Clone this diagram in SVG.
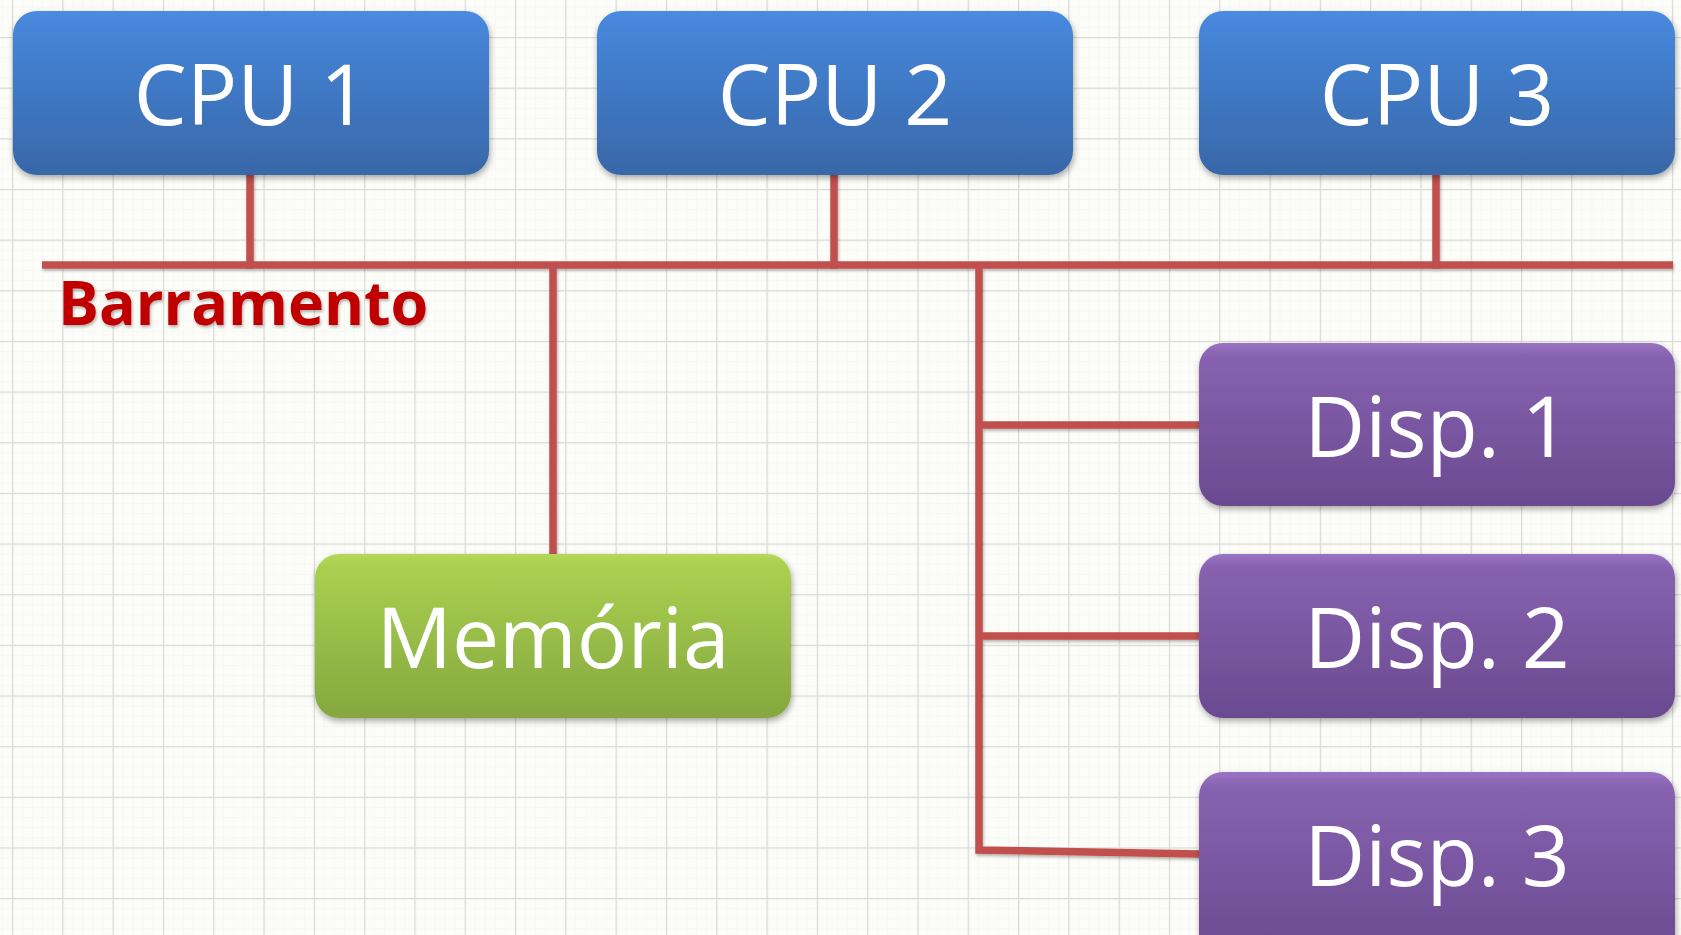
<svg xmlns="http://www.w3.org/2000/svg" width="1681" height="935" viewBox="0 0 1681 935">
  <defs>
    <pattern id="minor" x="12" y="37" width="10.06" height="10.13" patternUnits="userSpaceOnUse">
      <path d="M0 0V10.13M0 0H10.06" fill="none" stroke="#f3f4ef" stroke-width="1"/>
    </pattern>
    <pattern id="major" x="12" y="37" width="50.3" height="50.65" patternUnits="userSpaceOnUse">
      <path d="M0.5 0V50.65M0 0.5H50.3" fill="none" stroke="#d9d9d6" stroke-width="1.4"/>
    </pattern>
    <linearGradient id="gBlue" x1="0" y1="0" x2="0" y2="1">
      <stop offset="0" stop-color="#4a8ce0"/>
      <stop offset="0.08" stop-color="#4686da"/>
      <stop offset="1" stop-color="#3867a8"/>
    </linearGradient>
    <linearGradient id="gPurple" x1="0" y1="0" x2="0" y2="1">
      <stop offset="0" stop-color="#9a74c4"/>
      <stop offset="0.08" stop-color="#8762b0"/>
      <stop offset="1" stop-color="#6a4a90"/>
    </linearGradient>
    <linearGradient id="gGreen" x1="0" y1="0" x2="0" y2="1">
      <stop offset="0" stop-color="#b4d85a"/>
      <stop offset="0.08" stop-color="#aacf50"/>
      <stop offset="1" stop-color="#84a83e"/>
    </linearGradient>
    <filter id="shadow" x="-10%" y="-10%" width="120%" height="130%">
      <feDropShadow dx="1" dy="3" stdDeviation="3" flood-color="#000" flood-opacity="0.35"/>
    </filter>
    <filter id="lshadow" x="-5%" y="-5%" width="110%" height="110%">
      <feDropShadow dx="1" dy="2" stdDeviation="1.5" flood-color="#000" flood-opacity="0.3"/>
    </filter>
  </defs>
  <style>
    .lbl { font-family: "Open Sans", "Noto Sans", "Liberation Sans", sans-serif; font-size: 84px; fill: #ffffff; text-anchor: middle; }
    .box { stroke: none; filter: url(#shadow); }
    .conn { fill: none; stroke: #c0504d; stroke-width: 7.5; stroke-linecap: square; stroke-linejoin: miter; }
    .bus { font-family: "Open Sans", "Noto Sans", "Liberation Sans", sans-serif; font-weight: 700; font-size: 61px; fill: #c00000; }
  </style>

  <rect x="0" y="0" width="1681" height="935" fill="#fcfdf8"/>
  <rect x="0" y="0" width="1681" height="935" fill="url(#minor)"/>
  <rect x="0" y="0" width="1681" height="935" fill="url(#major)"/>

  <g id="connectors" filter="url(#lshadow)">
    <path class="conn" d="M42 265H1673" style="stroke-linecap:butt"/>
    <path class="conn" d="M250 176V265"/>
    <path class="conn" d="M834 176V265"/>
    <path class="conn" d="M1436 176V265"/>
    <path class="conn" d="M553 265V554" style="stroke-linecap:butt"/>
    <path class="conn" d="M979 265V850L1199 854" style="stroke-linecap:butt"/>
    <path class="conn" d="M979 425H1199" style="stroke-linecap:butt"/>
    <path class="conn" d="M979 636H1199" style="stroke-linecap:butt"/>
  </g>

  <g id="barramento">
    <text class="bus" x="58" y="325" filter="url(#lshadow)">Barramento</text>
  </g>

  <g id="cpu1">
    <rect class="box" x="13" y="11" width="476" height="164" rx="24" fill="url(#gBlue)"/>
    <text class="lbl" x="251" y="125">CPU 1</text>
  </g>
  <g id="cpu2">
    <rect class="box" x="597" y="11" width="476" height="164" rx="24" fill="url(#gBlue)"/>
    <text class="lbl" x="835" y="125">CPU 2</text>
  </g>
  <g id="cpu3">
    <rect class="box" x="1199" y="11" width="476" height="164" rx="24" fill="url(#gBlue)"/>
    <text class="lbl" x="1437" y="125">CPU 3</text>
  </g>

  <g id="memoria">
    <rect class="box" x="315" y="554" width="476" height="164" rx="24" fill="url(#gGreen)"/>
    <text class="lbl" x="553" y="668">Memória</text>
  </g>

  <g id="disp1">
    <rect class="box" x="1199" y="343" width="476" height="163" rx="24" fill="url(#gPurple)"/>
    <text class="lbl" x="1437" y="457">Disp. 1</text>
  </g>
  <g id="disp2">
    <rect class="box" x="1199" y="554" width="476" height="164" rx="24" fill="url(#gPurple)"/>
    <text class="lbl" x="1437" y="668">Disp. 2</text>
  </g>
  <g id="disp3">
    <rect class="box" x="1199" y="772" width="476" height="190" rx="24" fill="url(#gPurple)"/>
    <text class="lbl" x="1437" y="886">Disp. 3</text>
  </g>
</svg>
